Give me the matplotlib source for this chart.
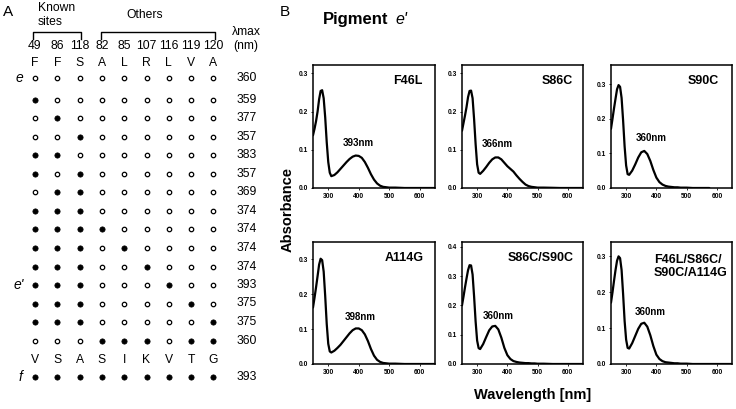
import numpy as np
import matplotlib
matplotlib.use("Agg")
import matplotlib.pyplot as plt

plt.rcParams['font.family'] = ['Liberation Sans', 'DejaVu Sans']

# ---------------- Panel A data ----------------
sites = ['49', '86', '118', '82', '85', '107', '116', '119', '120']
e_residues = ['F', 'F', 'S', 'A', 'L', 'R', 'L', 'V', 'A']
f_residues = ['V', 'S', 'A', 'S', 'I', 'K', 'V', 'T', 'G']
e_lambda = 360
f_lambda = 393
mutant_patterns = [
    [1, 0, 0, 0, 0, 0, 0, 0, 0],
    [0, 1, 0, 0, 0, 0, 0, 0, 0],
    [0, 0, 1, 0, 0, 0, 0, 0, 0],
    [1, 1, 0, 0, 0, 0, 0, 0, 0],
    [1, 0, 1, 0, 0, 0, 0, 0, 0],
    [0, 1, 1, 0, 0, 0, 0, 0, 0],
    [1, 1, 1, 0, 0, 0, 0, 0, 0],
    [1, 1, 1, 1, 0, 0, 0, 0, 0],
    [1, 1, 1, 0, 1, 0, 0, 0, 0],
    [1, 1, 1, 0, 0, 1, 0, 0, 0],
    [1, 1, 1, 0, 0, 0, 1, 0, 0],
    [1, 1, 1, 0, 0, 0, 0, 1, 0],
    [1, 1, 1, 0, 0, 0, 0, 0, 1],
    [0, 0, 0, 1, 1, 1, 0, 1, 1],
]
mutant_lambda = [359, 377, 357, 383, 357, 369, 374, 374, 374, 374, 393, 375, 375, 360]
e_prime_row = 10

# ---------------- Panel B data ----------------
wl = [250, 255, 260, 265, 270, 275, 280, 285, 290, 295, 300, 305, 310, 320, 330, 340,
      350, 360, 370, 380, 390, 400, 410, 420, 430, 440, 450, 460, 470, 480, 490, 500,
      520, 550, 575, 600, 650]
nan = float('nan')
abs_F46L = [0.138, 0.155, 0.175, 0.200, 0.232, 0.254, 0.256, 0.235, 0.185, 0.120, 0.068,
            0.040, 0.031, 0.034, 0.041, 0.050, 0.059, 0.068, 0.076, 0.082, 0.085, 0.084,
            0.079, 0.068, 0.053, 0.036, 0.022, 0.012, 0.006, 0.003, 0.002, 0.001, 0.001,
            0.0, 0.0, 0.0, 0.0]
abs_S86C = [0.150, 0.170, 0.190, 0.212, 0.238, 0.254, 0.255, 0.235, 0.180, 0.115, 0.062,
            0.040, 0.037, 0.045, 0.055, 0.066, 0.075, 0.080, 0.080, 0.075, 0.066, 0.057,
            0.050, 0.043, 0.033, 0.024, 0.016, 0.009, 0.005, 0.003, 0.002, 0.001, 0.001,
            0.0005, 0.0, 0.0, 0.0]
abs_S90C = [0.171, 0.200, 0.230, 0.258, 0.285, 0.297, 0.292, 0.260, 0.195, 0.120, 0.065,
            0.040, 0.038, 0.050, 0.068, 0.088, 0.103, 0.107, 0.098, 0.078, 0.052, 0.030,
            0.017, 0.010, 0.006, 0.004, 0.003, 0.002, 0.002, 0.001, 0.001, 0.001, 0.0,
            0.0, 0.0, nan, nan]
abs_A114G = [0.162, 0.190, 0.220, 0.252, 0.285, 0.302, 0.298, 0.265, 0.195, 0.115, 0.058,
             0.036, 0.033, 0.038, 0.046, 0.055, 0.066, 0.077, 0.088, 0.097, 0.102, 0.102,
             0.097, 0.085, 0.066, 0.043, 0.024, 0.012, 0.006, 0.003, 0.002, 0.001, 0.001,
             0.0, 0.0, 0.0, 0.0]
abs_S86C_S90C = [0.200, 0.230, 0.262, 0.292, 0.320, 0.337, 0.336, 0.305, 0.230, 0.145,
                 0.080, 0.054, 0.051, 0.068, 0.092, 0.115, 0.128, 0.130, 0.118, 0.090,
                 0.055, 0.030, 0.017, 0.010, 0.007, 0.005, 0.004, 0.003, 0.003, 0.002,
                 0.002, 0.001, 0.001, 0.0, 0.0, 0.0, 0.0]
abs_quad = [0.171, 0.200, 0.232, 0.262, 0.288, 0.300, 0.295, 0.262, 0.195, 0.120, 0.068,
            0.045, 0.043, 0.058, 0.078, 0.098, 0.112, 0.115, 0.104, 0.080, 0.050, 0.026,
            0.014, 0.008, 0.005, 0.004, 0.003, 0.002, 0.002, 0.001, 0.001, 0.001, 0.0,
            0.0, 0.0, 0.0, 0.0]

panel_names = ['F46L', 'S86C', 'S90C', 'A114G', 'S86C/S90C', 'F46L/S86C/\nS90C/A114G']
panel_data = [abs_F46L, abs_S86C, abs_S90C, abs_A114G, abs_S86C_S90C, abs_quad]
peak_labels = ['393nm', '366nm', '360nm', '398nm', '360nm', '360nm']
peak_label_pos = [(398, 0.118), (365, 0.114), (382, 0.143), (405, 0.135), (370, 0.165), (378, 0.145)]
y_tops = [0.322, 0.322, 0.355, 0.35, 0.416, 0.34]
y_ticks = [[0, 0.1, 0.2, 0.3]] * 4 + [[0, 0.1, 0.2, 0.3, 0.4], [0, 0.1, 0.2, 0.3]]
x_ticks = [300, 400, 500, 600]

W, H = 736, 409
fig = plt.figure(figsize=(W / 100, H / 100), dpi=100)

# ---------------- Panel A ----------------
colsp, rowsp = 22.3, 18.5
x0px, y0px = 35, 100
axA = fig.add_axes([0, 0, 280 / W, 1])
axA.axis('off')
axA.set_xlim(-x0px / colsp, (280 - x0px) / colsp)
axA.set_ylim((H - y0px) / rowsp, -y0px / rowsp)

fs = 8.7
ncol = len(sites)
cols = np.arange(ncol)
y_num, y_let, y_e, y_fl, y_f = -2.92, -2.0, -1.2, 14.05, 14.97
lam_x = 9.96

for i in range(ncol):
    axA.text(cols[i], y_num, sites[i], ha='center', va='center', fontsize=fs)
    axA.text(cols[i], y_let, e_residues[i], ha='center', va='center', fontsize=fs)
    axA.text(cols[i], y_fl, f_residues[i], ha='center', va='center', fontsize=fs)

def draw_row(y, pattern):
    pattern = np.asarray(pattern)
    filled = cols[pattern == 1]
    empty = cols[pattern == 0]
    axA.plot(empty, [y] * len(empty), 'o', ms=3.2, mfc='white', mec='black', mew=0.9, ls='none')
    axA.plot(filled, [y] * len(filled), 'o', ms=3.8, mfc='black', mec='black', mew=0.5, ls='none')

draw_row(y_e, [0] * ncol)
axA.text(lam_x, y_e, str(e_lambda), ha='right', va='center', fontsize=fs)
for k, (pat, lam) in enumerate(zip(mutant_patterns, mutant_lambda)):
    draw_row(k, pat)
    axA.text(lam_x, k, str(lam), ha='right', va='center', fontsize=fs)
draw_row(y_f, [1] * ncol)
axA.text(lam_x, y_f, str(f_lambda), ha='right', va='center', fontsize=fs)

axA.text(-0.72, y_e, 'e', ha='center', va='center', fontsize=10, style='italic')
axA.text(-0.72, e_prime_row, "e'", ha='center', va='center', fontsize=10, style='italic')
axA.text(-0.65, y_f, 'f', ha='center', va='center', fontsize=10, style='italic')

axA.text(9.5, -3.7, 'λmax', ha='center', va='center', fontsize=fs)
axA.text(9.45, y_num, '(nm)', ha='center', va='center', fontsize=fs)

# brackets
def bracket(xa, xb, ytop, ybot):
    axA.plot([xa, xa, xb, xb], [ybot, ytop, ytop, ybot], color='black', lw=1.0)

bracket(-0.09, 2.06, -3.66, -3.3)
bracket(2.95, 8.08, -3.66, -3.3)
axA.text(0.13, -4.6, 'Known\nsites', ha='left', va='center', fontsize=fs, linespacing=1.25)
axA.text(4.9, -4.6, 'Others', ha='center', va='center', fontsize=fs)

fig.text(8 / W, 1 - 12.5 / H, 'A', ha='center', va='center', fontsize=11)
fig.text(285 / W, 1 - 11.5 / H, 'B', ha='center', va='center', fontsize=11)
fig.text(323 / W, 1 - 19.5 / H, 'Pigment', ha='left', va='center', fontsize=12, fontweight='bold')
fig.text(395 / W, 1 - 19.5 / H, "e'", ha='left', va='center', fontsize=11.5, style='italic')

# ---------------- Panel B ----------------
col_px = [(313, 435), (462, 583), (611, 732)]
row_px = [(65, 188), (242, 364)]
name_pos = [(0.9, 0.87), (0.92, 0.87), (0.89, 0.87), (0.91, 0.866), (0.92, 0.87), (0.355, 0.80)]

for idx in range(6):
    r, c = divmod(idx, 3)
    l, rr = col_px[c]
    t, b = row_px[r]
    ax = fig.add_axes([l / W, 1 - b / H, (rr - l) / W, (b - t) / H])
    ax.plot(wl, panel_data[idx], color='black', lw=1.6, solid_capstyle='round')
    ax.set_xlim(250, 650)
    ax.set_ylim(0, y_tops[idx])
    ax.set_xticks(x_ticks)
    ax.set_yticks(y_ticks[idx])
    ax.set_xticklabels([str(v) for v in x_ticks], fontsize=4.8, fontweight='bold')
    ax.set_yticklabels(['%.1f' % v for v in y_ticks[idx]], fontsize=4.8, fontweight='bold')
    ax.tick_params(length=1.5, width=0.6, pad=2)
    for s in ax.spines.values():
        s.set_linewidth(1.1)
    nx, ny = name_pos[idx]
    if idx == 5:
        ax.text(nx, ny, panel_names[idx], transform=ax.transAxes, ha='left', va='center',
                fontsize=9, fontweight='bold', linespacing=1.05)
    else:
        ax.text(nx, ny, panel_names[idx], transform=ax.transAxes, ha='right', va='center',
                fontsize=9, fontweight='bold')
    px, py = peak_label_pos[idx]
    ax.text(px, py, peak_labels[idx], ha='center', va='center', fontsize=7, fontweight='bold')

fig.text(288 / W, 1 - 210 / H, 'Absorbance', rotation=90, ha='center', va='center',
         fontsize=10.5, fontweight='bold')
fig.text(533 / W, 1 - 395 / H, 'Wavelength [nm]', ha='center', va='center',
         fontsize=10.5, fontweight='bold')

fig.savefig('out.png', dpi=100)
